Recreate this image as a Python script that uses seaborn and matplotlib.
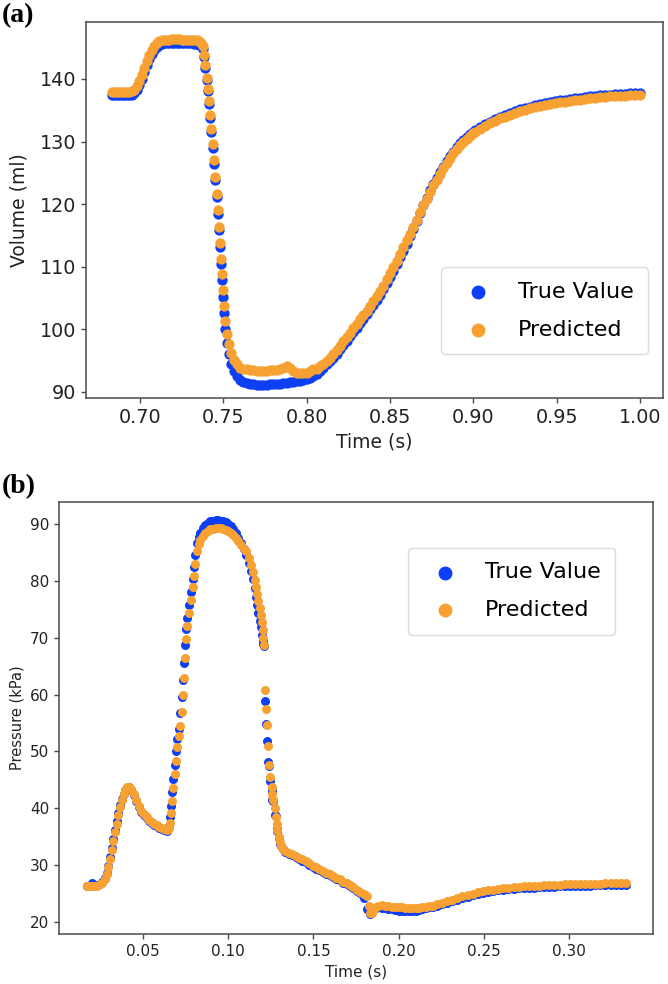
import matplotlib
matplotlib.use("Agg")
import matplotlib.pyplot as plt
import seaborn as sns
import pandas as pd

# ---------------- Panel (a): Volume ----------------
vol_time = [
    0.683, 0.6845, 0.686, 0.6875, 0.689, 0.6905, 0.692, 0.6935, 0.695,
    0.6965, 0.698, 0.6995, 0.701, 0.7025, 0.704, 0.7055, 0.707, 0.7085, 0.710, 0.7115, 0.713,
    0.7145, 0.716, 0.7175, 0.719, 0.7205, 0.722, 0.7235, 0.725, 0.7265, 0.728, 0.7295, 0.731,
    0.7325, 0.734, 0.7355,
    0.7368, 0.7376, 0.7384, 0.7392, 0.7400, 0.7407, 0.7414, 0.7421, 0.7428, 0.7436, 0.7444,
    0.7452, 0.7460, 0.7468, 0.7475, 0.7481, 0.7486, 0.7491, 0.7497, 0.7504, 0.7512, 0.7522,
    0.7534, 0.7548, 0.7564, 0.758, 0.760,
    0.762, 0.764, 0.766, 0.768, 0.770, 0.772, 0.774, 0.776, 0.778, 0.780, 0.782, 0.784,
    0.786, 0.788, 0.790, 0.792, 0.794, 0.796, 0.798, 0.800, 0.802, 0.804,
    0.806, 0.808, 0.810, 0.812, 0.814, 0.816, 0.818, 0.820, 0.822, 0.824, 0.826, 0.828,
    0.830, 0.832, 0.834, 0.836, 0.838, 0.840, 0.842, 0.844, 0.846, 0.848, 0.850, 0.852,
    0.854, 0.856, 0.858, 0.860, 0.862, 0.864, 0.866, 0.868, 0.870, 0.872, 0.874, 0.876,
    0.878, 0.880, 0.882, 0.884, 0.886, 0.888, 0.890, 0.892, 0.894, 0.896, 0.898, 0.900,
    0.901, 0.904, 0.907, 0.910, 0.913, 0.916, 0.919, 0.922, 0.925, 0.928, 0.931, 0.934,
    0.937, 0.940, 0.943, 0.946, 0.949, 0.952, 0.955, 0.958, 0.961, 0.964, 0.967, 0.970,
    0.973, 0.976, 0.979, 0.982, 0.985, 0.988, 0.991, 0.994, 0.997, 1.000,
]
vol_pred = [
    137.9, 137.9, 137.9, 137.9, 137.9, 137.9, 137.9, 137.9, 138.0,
    138.2, 138.8, 139.6, 140.6, 141.7, 142.8, 143.8, 144.6, 145.2, 145.7, 146.0, 146.2,
    146.3, 146.3, 146.3, 146.4, 146.4, 146.4, 146.4, 146.3, 146.3, 146.3, 146.3, 146.3,
    146.2, 146.2, 146.1,
    145.8, 145.2, 143.9, 142.2, 140.2, 138.4, 136.5, 134.3, 132.0, 129.6, 127.0,
    124.4, 121.7, 119.0, 116.4, 113.8, 111.3, 108.8, 106.3, 103.8, 101.4, 99.3,
    97.6, 96.2, 95.1, 94.4, 93.9,
    93.7, 93.6, 93.5, 93.5, 93.4, 93.4, 93.4, 93.4, 93.5, 93.5, 93.5, 93.6,
    93.8, 94.2, 93.8, 93.3, 93.1, 93.0, 93.0, 93.1, 93.3, 93.6,
    93.7, 94.1, 94.5, 95.0, 95.5, 96.1, 96.7, 97.4, 98.1, 98.8, 99.5, 100.2,
    100.9, 101.6, 102.3, 103.0, 103.8, 104.5, 105.3, 106.1, 107.0, 108.0, 109.0, 110.0,
    111.0, 112.0, 113.1, 114.2, 115.3, 116.4, 117.5, 118.7, 119.9, 120.9, 122.0, 123.0,
    123.9, 124.8, 125.7, 126.6, 127.4, 128.1, 128.8, 129.4, 129.9, 130.4, 130.9, 131.3,
    131.5, 132.0, 132.5, 132.9, 133.3, 133.7, 134.0, 134.3, 134.6, 134.9, 135.1, 135.3,
    135.5, 135.7, 135.9, 136.0, 136.2, 136.3, 136.4, 136.5, 136.6, 136.7, 136.8, 136.9,
    137.0, 137.1, 137.1, 137.2, 137.3, 137.3, 137.3, 137.4, 137.4, 137.4,
]
vol_true = [
    137.4, 137.4, 137.4, 137.4, 137.4, 137.4, 137.4, 137.4, 137.5,
    137.7, 138.2, 139.0, 140.0, 141.1, 142.2, 143.2, 144.0, 144.6, 145.1, 145.4, 145.6,
    145.7, 145.7, 145.7, 145.8, 145.8, 145.8, 145.8, 145.7, 145.7, 145.7, 145.7, 145.7,
    145.6, 145.6, 145.5,
    145.4, 144.8, 143.5, 141.8, 139.8, 138.0, 136.0, 133.8, 131.5, 129.0, 126.4,
    123.8, 121.1, 118.4, 115.8, 113.1, 110.5, 107.9, 105.2, 102.6, 100.0, 97.8,
    96.0, 94.5, 93.3, 92.5, 91.9,
    91.6, 91.4, 91.3, 91.2, 91.1, 91.1, 91.1, 91.1, 91.2, 91.2, 91.3, 91.3,
    91.4, 91.5, 91.6, 91.6, 91.7, 91.8, 91.9, 92.0, 92.2, 92.5,
    92.8, 93.3, 93.8, 94.4, 94.9, 95.5, 96.1, 96.8, 97.5, 98.2, 98.9, 99.6,
    100.3, 101.0, 101.7, 102.4, 103.2, 103.9, 104.7, 105.5, 106.4, 107.4, 108.4, 109.4,
    110.5, 111.5, 112.6, 113.7, 114.9, 116.1, 117.3, 118.6, 119.9, 121.0, 122.2, 123.2,
    124.2, 125.1, 126.0, 126.9, 127.7, 128.4, 129.1, 129.7, 130.2, 130.7, 131.2, 131.6,
    131.8, 132.3, 132.8, 133.2, 133.6, 134.0, 134.3, 134.6, 134.9, 135.2, 135.4, 135.6,
    135.8, 136.0, 136.2, 136.3, 136.5, 136.6, 136.7, 136.8, 136.9, 137.0, 137.1, 137.2,
    137.3, 137.4, 137.4, 137.5, 137.6, 137.6, 137.6, 137.7, 137.7, 137.7,
]

# ---------------- Panel (b): Pressure ----------------
pre_time = [
    0.017, 0.0185, 0.020, 0.0215, 0.023, 0.0245, 0.026,
    0.0275, 0.0285, 0.0295, 0.0305, 0.0315, 0.0325, 0.0335, 0.0345, 0.0355, 0.0365, 0.0375,
    0.0385, 0.0395, 0.0405,
    0.0415, 0.043, 0.0445, 0.046, 0.0475, 0.049, 0.0505, 0.052, 0.0535, 0.055, 0.0565,
    0.058, 0.0595, 0.061, 0.0625, 0.064,
    0.065, 0.0657, 0.0664, 0.0671, 0.0678, 0.0685, 0.0692, 0.0700, 0.0708, 0.0718, 0.0727,
    0.0733, 0.0738, 0.0744, 0.0751, 0.0760, 0.0771, 0.0783, 0.0792, 0.0798, 0.0806, 0.0816,
    0.0826,
    0.0836, 0.085, 0.0865, 0.088, 0.0895, 0.091, 0.0925, 0.094, 0.0955, 0.097, 0.0985,
    0.100, 0.1015, 0.103, 0.1045, 0.106, 0.1075, 0.109,
    0.1105, 0.112, 0.1132, 0.1145, 0.1155, 0.1163, 0.117, 0.1177, 0.1184, 0.1191, 0.1197,
    0.1202, 0.1206, 0.1209,
    0.1218, 0.1224, 0.1229, 0.1234, 0.1239, 0.1246, 0.1254, 0.1259, 0.1264, 0.1272, 0.1279,
    0.1284, 0.1289, 0.1296, 0.1303, 0.1312, 0.1321,
    0.1335, 0.1355, 0.1375, 0.1395, 0.1415, 0.1435, 0.1455, 0.1475, 0.1495, 0.1515, 0.1535,
    0.1555, 0.1575, 0.1595, 0.1615, 0.1635, 0.1655, 0.1675, 0.1695, 0.1715, 0.1735, 0.1755,
    0.1775, 0.1795, 0.1815,
    0.1825, 0.1835, 0.1845, 0.1855, 0.1865, 0.188, 0.190, 0.192, 0.194, 0.196, 0.198, 0.200,
    0.202, 0.204, 0.206, 0.208, 0.210, 0.212, 0.214, 0.216, 0.218, 0.220,
    0.2225, 0.2255, 0.2285, 0.2315, 0.2345, 0.2375, 0.2405, 0.2435, 0.2465, 0.2495, 0.2525,
    0.2555, 0.2585, 0.2615, 0.2645, 0.2675, 0.2705, 0.2735, 0.2765, 0.2795, 0.2825, 0.2855,
    0.2885, 0.2915, 0.2945, 0.2975, 0.3005, 0.3035, 0.3065, 0.3095, 0.3125, 0.3155, 0.3185,
    0.3215, 0.3245, 0.3275, 0.3305, 0.3335,
]
pre_pred = [
    26.3, 26.3, 26.3, 26.3, 26.4, 26.6, 26.9,
    27.5, 28.4, 29.6, 31.0, 32.6, 34.2, 35.8, 37.3, 38.8, 40.2, 41.5, 42.5, 43.3, 43.7,
    43.8, 43.4, 42.5, 41.4, 40.4, 39.6, 39.0, 38.5, 38.0, 37.6, 37.3, 37.0, 36.7, 36.5,
    36.3, 36.2,
    36.6, 37.4, 39.2, 41.3, 43.6, 46.0, 48.4, 50.8, 52.8, 54.5, 57.0, 60.0, 63.0, 66.5,
    69.8, 72.0, 74.3, 76.6, 78.9, 80.8, 83.0, 85.2, 86.5,
    87.2, 87.9, 88.4, 88.8, 89.1, 89.2, 89.3, 89.3, 89.3, 89.2, 89.0, 88.8, 88.5, 88.1,
    87.6, 87.0, 86.3, 85.6,
    85.2, 84.0, 82.8, 81.5, 80.2, 78.9, 77.7, 76.5, 75.3, 74.0, 72.7, 71.3, 69.9, 68.8,
    60.8, 57.5, 54.6, 51.0, 47.6, 45.5, 43.8, 42.6, 41.5, 40.0, 38.5, 37.3, 36.2, 35.0,
    34.1, 33.4, 32.9,
    32.5, 32.2, 31.9, 31.6, 31.3, 31.0, 30.7, 30.3, 29.9, 29.6, 29.3, 29.0, 28.7, 28.4,
    28.1, 27.8, 27.5, 27.1, 26.8, 26.5, 26.1, 25.7, 25.3, 25.0, 24.6,
    22.8, 21.6, 21.5, 22.3, 22.7, 22.9, 23.0, 22.9, 22.8, 22.7, 22.7, 22.6, 22.6, 22.5,
    22.5, 22.5, 22.5, 22.5, 22.6, 22.7, 22.8, 22.9,
    23.1, 23.4, 23.7, 23.95, 24.2, 24.5, 24.75, 25.0, 25.2, 25.4, 25.55, 25.7, 25.85,
    25.95, 26.05, 26.15, 26.2, 26.25, 26.3, 26.35, 26.4, 26.45, 26.5, 26.5, 26.55, 26.6,
    26.6, 26.65, 26.7, 26.7, 26.7, 26.75, 26.75, 26.8, 26.8, 26.8, 26.8, 26.8,
]
pre_true = [
    26.4, 26.4, 26.8, 26.5, 26.5, 26.7, 27.1,
    27.7, 28.7, 29.9, 31.4, 33.0, 34.6, 36.2, 37.7, 39.2, 40.5, 41.7, 42.6, 43.3, 43.6,
    43.7, 43.2, 42.3, 41.2, 40.2, 39.4, 38.8, 38.3, 37.8, 37.4, 37.1, 36.8, 36.5, 36.3,
    36.1, 36.0,
    36.9, 38.4, 40.4, 42.8, 45.1, 47.6, 50.0, 52.2, 54.0, 56.8, 59.5, 62.5, 65.6, 68.8,
    71.5, 73.5, 75.8, 78.1, 80.3, 82.4, 84.6, 86.6, 87.7,
    88.5, 89.3, 89.8, 90.2, 90.5, 90.6, 90.7, 90.7, 90.6, 90.5, 90.3, 90.0, 89.6, 89.1,
    88.4, 87.6, 86.6, 85.6,
    84.6, 83.2, 81.8, 80.3, 78.7, 77.2, 75.8, 74.4, 73.0, 71.8, 70.5, 69.5, 68.9, 68.6,
    58.8, 54.9, 51.8, 48.1, 47.5, 44.8, 43.0, 41.5, 41.2, 38.8, 38.6, 36.3, 36.0, 34.8,
    33.8, 33.3, 32.9,
    32.3, 32.0, 31.7, 31.4, 31.1, 30.8, 30.5, 30.1, 29.7, 29.4, 29.1, 28.8, 28.5, 28.2,
    27.9, 27.6, 27.3, 26.9, 26.6, 26.3, 25.9, 25.5, 25.1, 24.2, 22.3,
    21.9, 21.4, 21.8, 22.3, 22.5, 22.6, 22.5, 22.4, 22.3, 22.2, 22.1, 22.0, 22.0, 22.0,
    22.0, 22.0, 22.0, 22.1, 22.3, 22.5, 22.6, 22.7,
    22.8, 23.1, 23.4, 23.65, 23.9, 24.2, 24.45, 24.7, 24.9, 25.1, 25.25, 25.4, 25.55,
    25.65, 25.75, 25.85, 25.9, 25.95, 26.0, 26.05, 26.1, 26.15, 26.2, 26.2, 26.25, 26.3,
    26.3, 26.35, 26.4, 26.4, 26.4, 26.45, 26.45, 26.5, 26.5, 26.5, 26.5, 26.5,
]

series_labels = ["True Value", "Predicted"]
vol_xticks = [0.70, 0.75, 0.80, 0.85, 0.90, 0.95, 1.00]
vol_yticks = [90, 100, 110, 120, 130, 140]
pre_xticks = [0.05, 0.10, 0.15, 0.20, 0.25, 0.30]
pre_yticks = [20, 30, 40, 50, 60, 70, 80, 90]

BLUE = "#0d3ff5"
ORANGE = "#f8a133"
SPINE = "#4a4a4a"

df_vol = pd.DataFrame({"t": vol_time, "true": vol_true, "pred": vol_pred})
df_pre = pd.DataFrame({"t": pre_time, "true": pre_true, "pred": pre_pred})

fig = plt.figure(figsize=(6.68, 9.84), dpi=100)

ax1 = fig.add_axes([86 / 668, 1 - 398 / 984, (663 - 86) / 668, (398 - 22) / 984])
ax2 = fig.add_axes([59 / 668, 1 - 934 / 984, (653 - 59) / 668, (934 - 502) / 984])


def draw(ax, df, s, xlim, ylim, xticks, yticks, tick_fs, xlab, ylab, xlab_fs, ylab_fs,
         ylab_pad, legend_anchor, legend_loc):
    sns.scatterplot(data=df, x="t", y="true", color=BLUE, s=s, linewidth=0,
                    label=series_labels[0], ax=ax, zorder=2)
    sns.scatterplot(data=df, x="t", y="pred", color=ORANGE, s=s, linewidth=0,
                    label=series_labels[1], ax=ax, zorder=3)
    ax.set_xlim(*xlim)
    ax.set_ylim(*ylim)
    ax.set_xticks(xticks)
    ax.set_yticks(yticks)
    ax.set_xticklabels([f"{v:.2f}" for v in xticks])
    ax.set_yticklabels([f"{v:d}" for v in yticks])
    ax.tick_params(labelsize=tick_fs, color=SPINE, labelcolor="#222222", length=3.5, width=1)
    ax.set_xlabel(xlab, fontsize=xlab_fs, color="#222222")
    ax.set_ylabel(ylab, fontsize=ylab_fs, color="#222222", labelpad=ylab_pad)
    for sp in ax.spines.values():
        sp.set_color(SPINE)
        sp.set_linewidth(1.1)
        sp.set_visible(True)
    leg = ax.legend(loc=legend_loc, bbox_to_anchor=legend_anchor, borderaxespad=0,
                    fontsize=16, frameon=True, borderpad=0.65, labelspacing=0.8)
    for h in leg.legend_handles:
        h.set_sizes([100])
    leg.get_frame().set_edgecolor("#d4d4d4")
    return leg


draw(ax1, df_vol, 55, (0.6676, 1.0138), (89.04, 149.1), vol_xticks, vol_yticks, 13.8,
     "Time (s)", "Volume (ml)", 13.5, 13.5, 8,
     (0.974, 0.117), "lower right")
draw(ax2, df_pre, 42, (0.0006, 0.3494), (17.89, 93.87), pre_xticks, pre_yticks, 11,
     "Time (s)", "Pressure (kPa)", 11, 10.5, 4,
     (0.936, 0.8935), "upper right")

fig.text(0.003, 0.997, "(a)", family="Liberation Serif", fontweight="bold", fontsize=20,
         ha="left", va="top")
fig.text(0.003, 1 - 474 / 984, "(b)", family="Liberation Serif", fontweight="bold",
         fontsize=20, ha="left", va="top")

fig.savefig("out.png", dpi=100)
